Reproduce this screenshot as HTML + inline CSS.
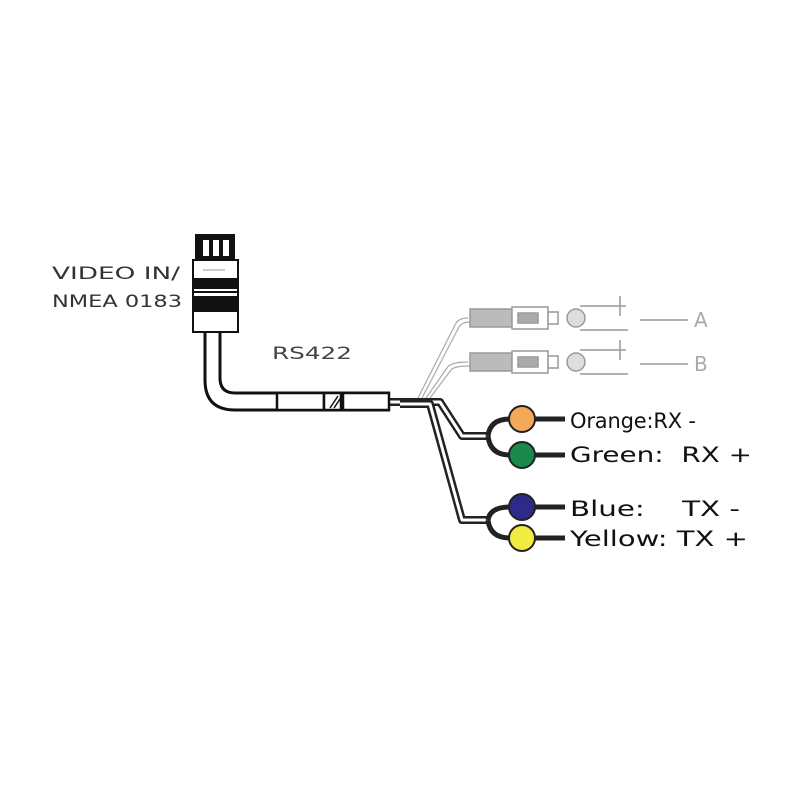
<!DOCTYPE html>
<html><head><meta charset="utf-8"><style>
html,body{margin:0;padding:0;background:#fff;width:800px;height:800px;overflow:hidden}
svg{display:block}
text{font-family:"DejaVu Sans","Liberation Sans",sans-serif;white-space:pre}
</style></head><body>
<svg width="800" height="800" viewBox="0 0 800 800" xmlns="http://www.w3.org/2000/svg">
<rect width="800" height="800" fill="#fff"/>
<text x="52" y="279" font-size="17" fill="#333" textLength="128" lengthAdjust="spacingAndGlyphs">VIDEO IN/</text>
<text x="52" y="307" font-size="17" fill="#333" textLength="130" lengthAdjust="spacingAndGlyphs">NMEA 0183</text>
<text x="272" y="359" font-size="17" fill="#444" textLength="80" lengthAdjust="spacingAndGlyphs">RS422</text>

<g fill="none" stroke="#aaa" stroke-width="1.2">
<path d="M418 398 L455 325 Q458 318 468 318"/>
<path d="M422 398 L459 327 Q462 322 470 322"/>
<path d="M426 398 L447 368 Q450 362 468 362"/>
<path d="M430 398 L451 370 Q454 366 470 366"/>
</g>
<g stroke="#999" stroke-width="1.5" fill="#fff">
<rect x="470" y="309" width="42" height="18" fill="#bbb"/>
<rect x="512" y="307" width="36" height="22"/>
<rect x="518" y="313" width="20" height="10" fill="#aaa"/>
<rect x="548" y="312" width="10" height="12"/>
<circle cx="576" cy="318" r="9" fill="#ddd"/>
<path d="M580 306 L620 306 M620 296 L620 316 M614 306 L626 306 M580 330 L628 330" fill="none"/>
<path d="M640 320 L688 320" fill="none"/>
<rect x="470" y="353" width="42" height="18" fill="#bbb"/>
<rect x="512" y="351" width="36" height="22"/>
<rect x="518" y="357" width="20" height="10" fill="#aaa"/>
<rect x="548" y="356" width="10" height="12"/>
<circle cx="576" cy="362" r="9" fill="#ddd"/>
<path d="M580 350 L620 350 M620 340 L620 360 M614 350 L626 350 M580 374 L628 374" fill="none"/>
<path d="M640 364 L688 364" fill="none"/>
</g>
<text x="694" y="327" font-size="20" fill="#aaa">A</text>
<text x="694" y="371" font-size="20" fill="#aaa">B</text>

<g fill="none" stroke-linejoin="round">
<path d="M388 402 L440 402 L462 436 L490 436" stroke="#222" stroke-width="8"/>
<path d="M388 402 L440 402 L462 436 L490 436" stroke="#fff" stroke-width="3"/>
<path d="M400 404 L430 404 L462 520 L490 520" stroke="#222" stroke-width="8"/>
<path d="M400 404 L430 404 L462 520 L490 520" stroke="#fff" stroke-width="3"/>
<path d="M488 436 Q490 419 510 419 L565 419 M488 436 Q490 455 510 455 L565 455" stroke="#222" stroke-width="5"/>
<path d="M488 520 Q490 507 510 507 L565 507 M488 520 Q490 538 510 538 L565 538" stroke="#222" stroke-width="5"/>
</g>
<g stroke="#222" stroke-width="2">
<circle cx="522" cy="419" r="13" fill="#f4a95a"/>
<circle cx="522" cy="455" r="13" fill="#1a8a4a"/>
<circle cx="522" cy="507" r="13" fill="#2e2a8a"/>
<circle cx="522" cy="538" r="13" fill="#f0ec40"/>
</g>
<g font-size="21" fill="#111">
<text x="570" y="428" textLength="126" lengthAdjust="spacing">Orange:RX -</text>
<text x="570" y="462" textLength="182" lengthAdjust="spacingAndGlyphs">Green:  RX +</text>
<text x="570" y="516" textLength="170" lengthAdjust="spacingAndGlyphs">Blue:    TX -</text>
<text x="570" y="546" textLength="178" lengthAdjust="spacingAndGlyphs">Yellow: TX +</text>
</g>

<g fill="none" stroke="#111" stroke-width="3">
<path d="M205 333 L205 380 Q205 410 235 410 L390 410"/>
<path d="M220 333 L220 378 Q220 393 235 393 L390 393"/>
</g>
<g fill="#fff" stroke="#111" stroke-width="2.5">
<rect x="277" y="393" width="47" height="17"/>
<rect x="324" y="393" width="17" height="17"/>
<rect x="343" y="393" width="46" height="17"/>
</g>
<path d="M330 408 L338 396 M334 408 L342 396" stroke="#111" stroke-width="1.5"/>

<g stroke="#111" stroke-width="2">
<rect x="196" y="235" width="38" height="24" fill="#111"/>
<rect x="203" y="240" width="6" height="16" fill="#fff" stroke="none"/>
<rect x="213" y="240" width="6" height="16" fill="#fff" stroke="none"/>
<rect x="223" y="240" width="6" height="16" fill="#fff" stroke="none"/>
<rect x="193" y="260" width="45" height="72" fill="#fff"/>
<rect x="193" y="279" width="45" height="9" fill="#111"/>
<rect x="193" y="297" width="45" height="14" fill="#111"/>
<line x1="193" y1="292" x2="238" y2="292"/>
<line x1="203" y1="270" x2="225" y2="270" stroke="#999" stroke-width="1"/>
</g>
</svg>
</body></html>
